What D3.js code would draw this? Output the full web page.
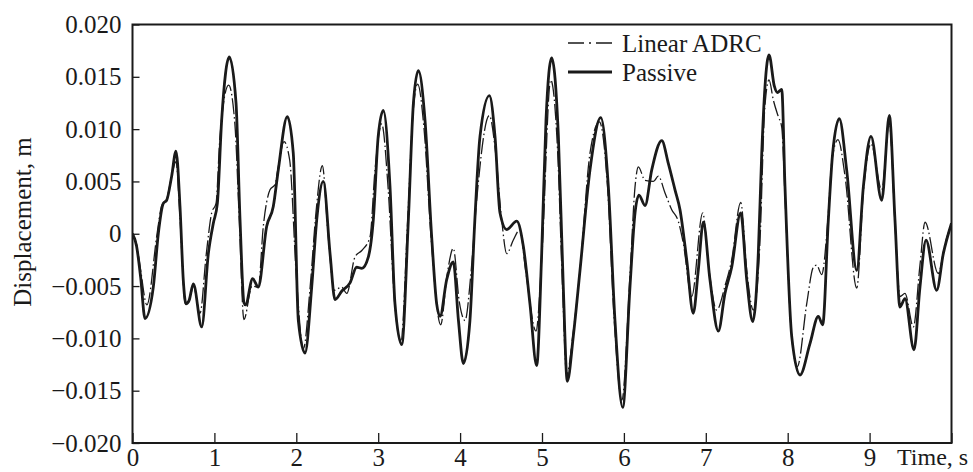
<!DOCTYPE html>
<html>
<head>
<meta charset="utf-8">
<script src="https://cdn.jsdelivr.net/npm/d3@7"></script>
<style>
  html, body { margin: 0; padding: 0; background: #fff; }
  svg { display: block; }
  text { font-family: "Liberation Serif", "Times New Roman", serif; fill: #1a1a1a; }
</style>
</head>
<body>
<svg id="chart" width="973" height="472"></svg>
<script>
// ---- data (time in s, displacement in m) ----
const passive = [
  [0,0],[0.05,-0.0012],[0.1,-0.0042],[0.153,-0.0081],[0.254,-0.0051],[0.315,0.0000],[0.376,0.0029],[0.417,0.0032],
  [0.478,0.0055],[0.531,0.0079],[0.58,0.0026],[0.62,-0.0044],[0.653,-0.0067],[0.69,-0.0064],[0.743,-0.0048],
  [0.845,-0.0089],[0.926,-0.0019],[0.987,0.0010],[1.036,0.0029],[1.089,0.0109],[1.182,0.0169],[1.264,0.0125],
  [1.313,0.0013],[1.361,-0.0066],[1.38,-0.0068],[1.467,-0.0043],[1.536,-0.0051],[1.638,0.0007],[1.719,0.0026],
  [1.78,0.0061],[1.89,0.0112],[1.963,0.0077],[2.025,-0.0083],[2.106,-0.0114],[2.188,-0.0051],[2.249,0.0013],
  [2.33,0.0050],[2.412,-0.0019],[2.473,-0.0063],[2.554,-0.0055],[2.656,-0.0047],[2.737,-0.0032],[2.8,-0.0033],
  [2.88,-0.0022],[2.94,0.0013],[3.0,0.0093],[3.062,0.0118],[3.144,0.0045],[3.205,-0.0067],[3.287,-0.0106],
  [3.368,0.0013],[3.43,0.0125],[3.49,0.0156],[3.571,0.0109],[3.653,-0.0003],[3.714,-0.0067],[3.755,-0.0079],
  [3.836,-0.0044],[3.917,-0.0027],[3.98,-0.0083],[4.04,-0.0124],[4.12,-0.0083],[4.18,0.0013],[4.243,0.0093],
  [4.357,0.0132],[4.426,0.0093],[4.487,0.0020],[4.569,0.0004],[4.691,0.0012],[4.772,-0.0012],[4.853,-0.0067],
  [4.935,-0.0126],[4.996,-0.0019],[5.049,0.0109],[5.118,0.0168],[5.2,0.0093],[5.26,-0.0051],[5.309,-0.0141],
  [5.382,-0.0098],[5.464,-0.0035],[5.586,0.0061],[5.717,0.0111],[5.81,0.0045],[5.891,-0.0083],[5.985,-0.0166],
  [6.074,-0.0051],[6.136,0.0020],[6.184,0.0037],[6.258,0.0027],[6.34,0.0061],[6.462,0.0089],[6.543,0.0067],
  [6.624,0.0042],[6.685,0.0023],[6.767,-0.0025],[6.847,-0.0076],[6.908,-0.0035],[6.97,0.0011],[7.051,-0.0044],
  [7.153,-0.0093],[7.234,-0.0057],[7.316,-0.0032],[7.426,0.0020],[7.5,-0.0044],[7.573,-0.0084],[7.641,-0.0019],
  [7.683,0.0077],[7.723,0.0141],[7.772,0.0171],[7.837,0.0141],[7.873,0.0135],[7.927,0.0138],[7.967,0.0045],
  [8.049,-0.0098],[8.15,-0.0135],[8.272,-0.0105],[8.374,-0.0079],[8.427,-0.0087],[8.496,0.0013],[8.549,0.0077],
  [8.63,0.0110],[8.72,0.0061],[8.843,-0.0035],[8.924,0.0045],[9.017,0.0093],[9.148,0.0032],[9.241,0.0113],
  [9.31,0.0013],[9.371,-0.0070],[9.432,-0.0062],[9.542,-0.0111],[9.615,-0.0051],[9.689,-0.0006],[9.819,-0.0054],
  [9.9,-0.0019],[10.0,0.0010]
];
const adrc = [
  [0,0],[0.05,-0.0010],[0.1,-0.0035],[0.175,-0.0068],[0.3,0.0000],[0.357,0.0027],[0.417,0.0033],[0.478,0.0055],
  [0.531,0.0069],[0.58,0.0015],[0.645,-0.0067],[0.69,-0.0065],[0.743,-0.0050],[0.824,-0.0076],[0.9,-0.0020],
  [0.967,0.0020],[1.02,0.0029],[1.068,0.0093],[1.174,0.0142],[1.25,0.0105],[1.304,0.0013],[1.36,-0.0082],
  [1.46,-0.0050],[1.536,-0.0051],[1.597,0.0007],[1.679,0.0042],[1.74,0.0047],[1.78,0.0064],[1.85,0.0088],
  [1.92,0.0070],[2.0,-0.0040],[2.086,-0.0110],[2.17,-0.0050],[2.24,0.0020],[2.318,0.0065],[2.39,-0.0003],
  [2.464,-0.0054],[2.554,-0.0051],[2.616,-0.0057],[2.717,-0.0022],[2.8,-0.0016],[2.9,-0.0003],[2.961,0.0061],
  [3.043,0.0105],[3.12,0.0045],[3.2,-0.0065],[3.278,-0.0102],[3.36,0.0013],[3.42,0.0110],[3.482,0.0143],
  [3.56,0.0100],[3.645,-0.0003],[3.763,-0.0087],[3.84,-0.0040],[3.917,-0.0014],[3.99,-0.0065],[4.06,-0.0083],
  [4.13,-0.0040],[4.2,0.0030],[4.357,0.0113],[4.43,0.0080],[4.508,0.0013],[4.569,-0.0019],[4.65,-0.0006],
  [4.73,0.0004],[4.8,-0.0035],[4.927,-0.0093],[5.0,-0.0019],[5.106,0.0147],[5.19,0.0080],[5.25,-0.0050],
  [5.301,-0.0135],[5.38,-0.0095],[5.464,-0.0035],[5.586,0.0077],[5.7,0.0107],[5.8,0.0045],[5.88,-0.0080],
  [5.975,-0.0159],[6.074,-0.0040],[6.136,0.0045],[6.176,0.0064],[6.258,0.0051],[6.36,0.0050],[6.42,0.0055],
  [6.502,0.0039],[6.584,0.0023],[6.664,0.0012],[6.725,-0.0009],[6.828,-0.0060],[6.962,0.0020],[7.04,-0.0035],
  [7.133,-0.0073],[7.234,-0.0050],[7.316,-0.0025],[7.426,0.0030],[7.5,-0.0035],[7.58,-0.0073],[7.66,-0.0010],
  [7.72,0.0120],[7.772,0.0147],[7.824,0.0128],[7.885,0.0112],[7.927,0.0102],[7.97,0.0030],[8.04,-0.0090],
  [8.117,-0.0127],[8.232,-0.0067],[8.313,-0.0032],[8.354,-0.0030],[8.415,-0.0039],[8.49,0.0013],[8.54,0.0070],
  [8.614,0.0090],[8.7,0.0055],[8.843,-0.0052],[8.924,0.0040],[9.017,0.0086],[9.148,0.0042],[9.241,0.0106],
  [9.31,0.0010],[9.371,-0.0060],[9.432,-0.0057],[9.534,-0.0089],[9.615,-0.0030],[9.677,0.0011],[9.838,-0.0038],
  [9.92,-0.0010],[10.0,0.0010]
];
const xTicks = [0,1,2,3,4,5,6,7,8,9,10];
const xTickLabels = ["0","1","2","3","4","5","6","7","8","9",""];
const yTicks = [0.020,0.015,0.010,0.005,0,-0.005,-0.010,-0.015,-0.020];
const yTickLabels = ["0.020","0.015","0.010","0.005","0","\u22120.005","\u22120.010","\u22120.015","\u22120.020"];
const seriesNames = ["Linear ADRC","Passive"];
const xTitle = "Time, s";
const yTitle = "Displacement, m";

// ---- layout ----
const svg = d3.select("#chart");
const L = 132.5, R = 951.5, T = 24.5, B = 443;
const x = d3.scaleLinear().domain([0,10]).range([L,R]);
const y = d3.scaleLinear().domain([-0.020,0.020]).range([B,T]);
const ink = "#1a1a1a";

svg.append("defs").append("clipPath").attr("id","plotclip")
  .append("rect").attr("x",L).attr("y",T).attr("width",R-L).attr("height",B-T);

// axes (ticks inward)
const xAxis = d3.axisBottom(x).tickValues(xTicks).tickSize(-10).tickPadding(5)
  .tickFormat((d,i) => xTickLabels[i]);
const gx = svg.append("g").attr("transform",`translate(0,${B})`).call(xAxis);
gx.select(".domain").remove();
gx.selectAll(".tick line").attr("stroke",ink).attr("stroke-width",1.3);
gx.selectAll(".tick text").attr("font-size",25).attr("font-family","Liberation Serif").attr("fill",ink).attr("dy","0.72em");

const yAxis = d3.axisLeft(y).tickValues(yTicks).tickSize(-7).tickPadding(11)
  .tickFormat((d,i) => yTickLabels[i]);
const gy = svg.append("g").attr("transform",`translate(${L},0)`).call(yAxis);
gy.select(".domain").remove();
gy.selectAll(".tick line").attr("stroke",ink).attr("stroke-width",1.3);
gy.selectAll(".tick text").attr("font-size",25).attr("font-family","Liberation Serif").attr("fill",ink);

// frame
svg.append("rect").attr("x",L).attr("y",T).attr("width",R-L).attr("height",B-T)
  .attr("fill","none").attr("stroke",ink).attr("stroke-width",2);

// titles
svg.append("text").attr("x",897).attr("y",465).attr("font-size",24).text(xTitle);
svg.append("text").attr("transform","translate(31,222) rotate(-90)")
  .attr("text-anchor","middle").attr("font-size",25).text(yTitle);

// lines
const line = d3.line().x(d => x(d[0])).y(d => y(d[1])).curve(d3.curveMonotoneX);
const plot = svg.append("g").attr("clip-path","url(#plotclip)");
plot.append("path").datum(passive).attr("d",line)
  .attr("fill","none").attr("stroke",ink).attr("stroke-width",2.8).attr("stroke-linejoin","round");
plot.append("path").datum(adrc).attr("d",line)
  .attr("fill","none").attr("stroke",ink).attr("stroke-width",1.3)
  .attr("stroke-dasharray","16,3,1.5,3");

// legend
const lg = svg.append("g");
lg.append("line").attr("x1",568).attr("x2",612).attr("y1",43).attr("y2",43)
  .attr("stroke",ink).attr("stroke-width",1.4).attr("stroke-dasharray","16,5,2,5");
lg.append("text").attr("x",622).attr("y",52).attr("font-size",25).text(seriesNames[0]);
lg.append("line").attr("x1",568).attr("x2",612).attr("y1",72).attr("y2",72)
  .attr("stroke",ink).attr("stroke-width",3);
lg.append("text").attr("x",622).attr("y",81).attr("font-size",25).text(seriesNames[1]);
</script>
</body>
</html>
